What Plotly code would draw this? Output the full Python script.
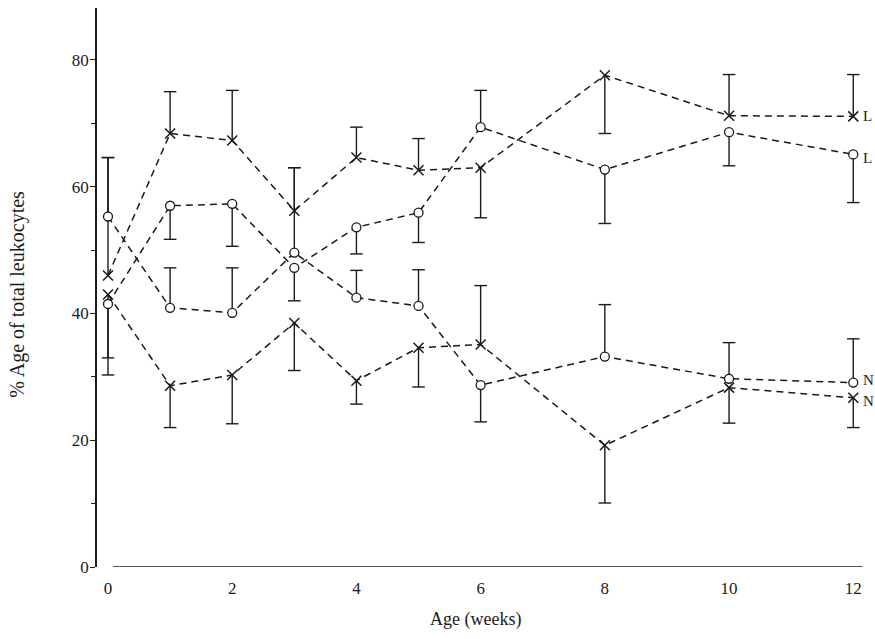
import plotly.graph_objects as go

weeks = [0, 1, 2, 3, 4, 5, 6, 8, 10, 12]

cross_L = [46.0, 68.4, 67.3, 56.2, 64.6, 62.6, 63.0, 77.6, 71.2, 71.1]
cross_L_up = [18.6, 6.6, 7.9, 6.8, 4.8, 5.0, 0, 0, 6.5, 6.6]
cross_L_dn = [0, 0, 0, 0, 0, 0, 7.9, 9.2, 0, 0]

circle_L = [41.5, 57.0, 57.3, 47.2, 53.6, 55.9, 69.4, 62.7, 68.6, 65.1]
circle_L_up = [0, 0, 0, 0, 0, 0, 5.8, 0, 0, 0]
circle_L_dn = [11.2, 5.3, 6.7, 5.2, 4.2, 4.7, 0, 8.5, 5.3, 7.6]

cross_N = [43.0, 28.6, 30.3, 38.5, 29.4, 34.6, 35.1, 19.2, 28.3, 26.7]
cross_N_up = [0, 0, 0, 0, 0, 0, 9.3, 0, 0, 0]
cross_N_dn = [10.0, 6.6, 7.7, 7.5, 3.7, 6.2, 0, 9.1, 5.6, 4.7]

circle_N = [55.3, 40.9, 40.1, 49.6, 42.5, 41.2, 28.7, 33.2, 29.7, 29.1]
circle_N_up = [9.3, 6.3, 7.1, 13.4, 4.3, 5.7, 0, 8.2, 5.7, 6.9]
circle_N_dn = [0, 0, 0, 0, 0, 0, 5.8, 0, 0, 0]

end_labels = ["L", "L", "N", "N"]

FONT = "Liberation Serif"
INK = "#1a1a1a"

series = [
    (cross_L, cross_L_up, cross_L_dn, "x-thin"),
    (circle_L, circle_L_up, circle_L_dn, "circle"),
    (cross_N, cross_N_up, cross_N_dn, "x-thin"),
    (circle_N, circle_N_up, circle_N_dn, "circle"),
]

fig = go.Figure()

# error bar stems and caps
for vals, up, dn, sym in series:
    sx, sy, cx, cy = [], [], [], []
    for w, v, u, d in zip(weeks, vals, up, dn):
        if u > 0:
            sx += [w, w, None]
            sy += [v, v + u, None]
            cx.append(w)
            cy.append(v + u)
        if d > 0:
            sx += [w, w, None]
            sy += [v, v - d, None]
            cx.append(w)
            cy.append(v - d)
    fig.add_trace(go.Scatter(x=sx, y=sy, mode="lines",
                             line=dict(color=INK, width=1.4),
                             hoverinfo="skip", showlegend=False))
    fig.add_trace(go.Scatter(x=cx, y=cy, mode="markers",
                             marker=dict(symbol="line-ew", size=9,
                                         line=dict(color=INK, width=1.4)),
                             hoverinfo="skip", showlegend=False))

# dashed series lines with markers
for vals, up, dn, sym in series:
    if sym == "circle":
        marker = dict(symbol="circle", size=9, color="white",
                      line=dict(color=INK, width=1.3))
    else:
        marker = dict(symbol="x-thin", size=10, color=INK,
                      line=dict(color=INK, width=1.5))
    fig.add_trace(go.Scatter(x=weeks, y=vals, mode="lines+markers",
                             line=dict(color=INK, width=1.5, dash="7px,5px"),
                             marker=marker, showlegend=False, cliponaxis=False))

# end labels
for (vals, up, dn, sym), lab, ys in zip(series, end_labels, [0, -4, -3, 3]):
    fig.add_annotation(x=weeks[-1], y=vals[-1], text=lab, showarrow=False,
                       xanchor="left", xshift=8, yshift=ys,
                       font=dict(family=FONT, size=15, color=INK))

# x axis line (drawn short, as in the original)
fig.add_shape(type="line", xref="x", yref="y", x0=0.08, x1=12.15, y0=0, y1=0,
              line=dict(color=INK, width=1.6))

fig.add_annotation(text="Age (weeks)", xref="paper", yref="paper",
                   x=0.487, y=-0.094, xanchor="center", yanchor="middle",
                   showarrow=False,
                   font=dict(family=FONT, size=18, color=INK))
fig.add_annotation(text="% Age of total leukocytes", xref="paper", yref="paper",
                   x=0, y=0.487, xshift=-79, xanchor="center", yanchor="middle",
                   textangle=-90, showarrow=False,
                   font=dict(family=FONT, size=20, color=INK))

fig.update_layout(
    width=875, height=639,
    margin=dict(l=97, r=0, t=8, b=72),
    paper_bgcolor="white", plot_bgcolor="white",
    xaxis=dict(range=[-0.177, 12.35], showgrid=False, zeroline=False,
               showline=False, tickvals=[0, 2, 4, 6, 8, 10, 12],
               ticks="", ticklabelstandoff=9,
               tickfont=dict(family=FONT, size=17, color=INK)),
    yaxis=dict(range=[0, 88.2], showgrid=False, zeroline=False,
               showline=True, linecolor=INK, linewidth=1.6,
               tickvals=[0, 20, 40, 60, 80], ticks="outside", ticklen=5,
               tickcolor=INK, tickwidth=1.3, ticklabelstandoff=-2,
               minor=dict(ticks="outside", ticklen=4, dtick=10,
                          tickcolor=INK, tickwidth=1.3),
               tickfont=dict(family=FONT, size=17, color=INK)),
)

fig.write_html("out.html")
